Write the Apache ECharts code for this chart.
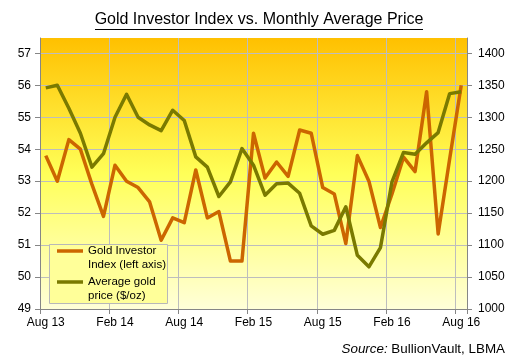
<!DOCTYPE html>
<html>
<head>
<meta charset="utf-8">
<script src="https://cdn.jsdelivr.net/npm/echarts@6/dist/echarts.min.js"></script>
<style>
html,body{margin:0;padding:0;background:#fff;}
#c{width:511px;height:359px;}
</style>
</head>
<body>
<div id="c"></div>
<script>
var months = ['Aug 13','Sep 13','Oct 13','Nov 13','Dec 13','Jan 14','Feb 14','Mar 14','Apr 14','May 14','Jun 14','Jul 14',
  'Aug 14','Sep 14','Oct 14','Nov 14','Dec 14','Jan 15','Feb 15','Mar 15','Apr 15','May 15','Jun 15','Jul 15',
  'Aug 15','Sep 15','Oct 15','Nov 15','Dec 15','Jan 16','Feb 16','Mar 16','Apr 16','May 16','Jun 16','Jul 16','Aug 16'];
var investorIndex = [53.8, 53.0, 54.3, 54.0, 52.9, 51.9, 53.5, 53.0, 52.8, 52.35, 51.15, 51.85,
  51.7, 53.35, 51.85, 52.05, 50.5, 50.5, 54.5, 53.1, 53.6, 53.15, 54.6, 54.5,
  52.8, 52.6, 51.05, 53.8, 53.0, 51.55, 52.6, 53.75, 53.3, 55.8, 51.35, 53.7, 56.0];
var goldPrice = [1346, 1350, 1314, 1275, 1222, 1243, 1300, 1336, 1300, 1288, 1279, 1311,
  1295, 1238, 1222, 1176, 1199, 1251, 1225, 1178, 1196, 1197, 1181, 1130,
  1117, 1123, 1160, 1084, 1066, 1096, 1199, 1245, 1242, 1260, 1276, 1337, 1340];
var leftTicks = [49, 50, 51, 52, 53, 54, 55, 56, 57];
var rightTicks = [1000, 1050, 1100, 1150, 1200, 1250, 1300, 1350, 1400];
var seriesNames = ['Gold Investor\nIndex (left axis)', 'Average gold\nprice ($/oz)'];

var FONT = 'Liberation Sans, Arial, sans-serif';
var gridColors = [];
for (var k = 0; k < 9; k++) gridColors.push('#BDBDBD');
gridColors.push('rgba(0,0,0,0)');

var chart = echarts.init(document.getElementById('c'), null, {renderer: 'canvas'});
chart.setOption({
  animation: false,
  backgroundColor: '#ffffff',
  title: [{
    text: 'Gold Investor Index vs. Monthly Average Price',
    left: 259, top: 12, textAlign: 'center', padding: 0,
    textStyle: {fontFamily: FONT, fontSize: 16, fontWeight: 'normal', color: '#000'}
  }, {
    text: '{i|Source:} BullionVault, LBMA',
    right: 6, top: 343, padding: 0,
    textStyle: {fontFamily: FONT, fontSize: 13.4, fontWeight: 'normal', color: '#000',
      rich: {i: {fontFamily: FONT, fontSize: 13.4, fontStyle: 'italic', color: '#000'}}}
  }],
  graphic: [{
    type: 'line', shape: {x1: 95, y1: 29.5, x2: 423, y2: 29.5},
    style: {stroke: '#000', lineWidth: 1}, silent: true
  }, {
    type: 'rect', shape: {x: 49.5, y: 244.5, width: 118, height: 59},
    style: {fill: '#FFFF99', stroke: '#B8B8B8', lineWidth: 1}, z: 5, silent: true
  }],
  legend: {
    orient: 'vertical', left: 57, top: 230, padding: 0, itemGap: -11,
    itemWidth: 26, itemHeight: 3.5, icon: 'rect', z: 10,
    formatter: function (name) { return '\n' + name; },
    textStyle: {fontFamily: FONT, fontSize: 11.5, color: '#000', lineHeight: 14},
    data: seriesNames
  },
  grid: {
    left: 40, right: 44, top: 38, bottom: 50, show: true, borderWidth: 0,
    backgroundColor: {type: 'linear', x: 0, y: 0, x2: 0, y2: 1,
      colorStops: [{offset: 0, color: '#FFC000'}, {offset: 0.5, color: '#FFFF58'}, {offset: 1, color: '#FFFFD8'}]}
  },
  xAxis: {
    type: 'category', data: months, boundaryGap: true,
    axisLine: {show: true, lineStyle: {color: '#868686', width: 1}},
    axisTick: {show: true, interval: 5, length: 5, lineStyle: {color: '#868686'}},
    axisLabel: {interval: 5, margin: 8, fontFamily: FONT, fontSize: 12, color: '#000'},
    splitLine: {show: true, interval: 5, lineStyle: {color: '#BDBDBD', width: 1}}
  },
  yAxis: [{
    type: 'value', position: 'left', min: 49, max: 57.48, interval: 1,
    axisLine: {show: true, lineStyle: {color: '#868686'}},
    axisTick: {show: true, length: 5, customValues: leftTicks, lineStyle: {color: '#868686'}},
    axisLabel: {customValues: leftTicks, margin: 9, fontFamily: FONT, fontSize: 12, color: '#000',
      formatter: function (v) { return String(v); }},
    splitLine: {show: true, lineStyle: {color: gridColors, width: 1}}
  }, {
    type: 'value', position: 'right', min: 1000, max: 1424, interval: 50,
    axisLine: {show: true, lineStyle: {color: '#868686'}},
    axisTick: {show: true, length: 5, customValues: rightTicks, lineStyle: {color: '#868686'}},
    axisLabel: {customValues: rightTicks, margin: 11, fontFamily: FONT, fontSize: 12, color: '#000',
      formatter: function (v) { return String(v); }},
    splitLine: {show: false}
  }],
  series: [{
    name: seriesNames[0], type: 'line', yAxisIndex: 0, data: investorIndex,
    symbol: 'none', showSymbol: false, color: '#CC6600',
    lineStyle: {color: '#CC6600', width: 3.5, join: 'round'}
  }, {
    name: seriesNames[1], type: 'line', yAxisIndex: 1, data: goldPrice,
    symbol: 'none', showSymbol: false, color: '#7A7A00',
    lineStyle: {color: '#7A7A00', width: 3.5, join: 'round'}
  }]
});
</script>
</body>
</html>
